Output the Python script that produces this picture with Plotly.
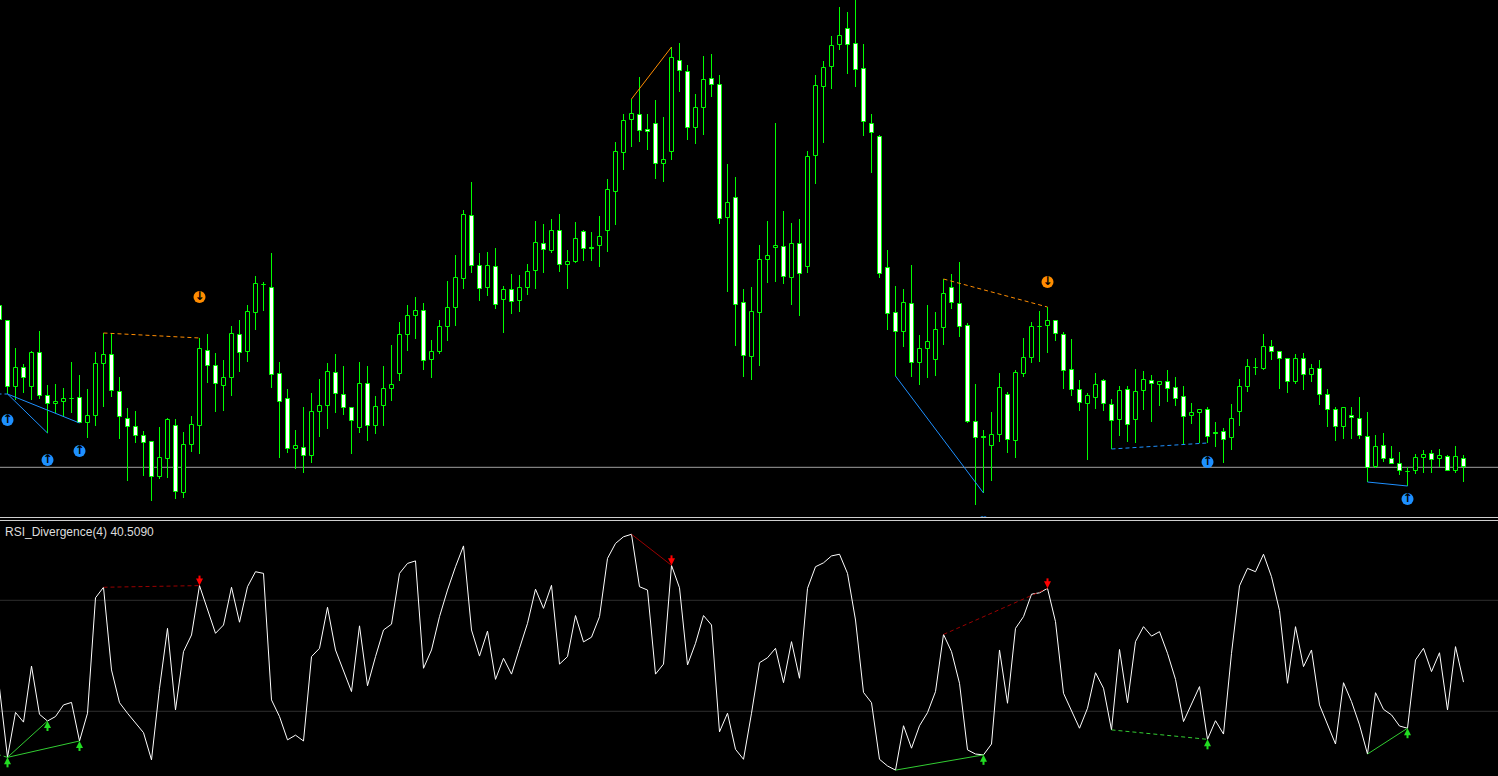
import plotly.graph_objects as go

# ---------------- data (bar index -1 .. 182) ----------------
idx = list(range(-1, 183))

open_ = [294, 279, 213, 232, 213, 247, 204, 196, 198, 201.5,
         202, 177, 184, 236, 245, 208, 181, 173, 164, 158,
         123, 141, 174, 107, 155, 174, 249, 234, 214, 222,
         265, 248, 287, 315, 312, 226, 201, 151, 152, 144,
         188, 194, 227, 205, 192, 172, 216, 174, 194, 211,
         226, 265, 284, 289, 240, 248, 273, 292, 321, 384,
         334, 312, 333, 300, 310, 299, 312, 329, 356, 349,
         369, 335, 338, 368, 352.5, 354, 369, 408, 447, 480,
         485, 470, 476, 436, 448, 539, 528, 472, 492, 521,
         515, 382, 402, 297, 243, 287, 340, 352, 353, 322,
         356, 333, 444, 513, 533, 555, 571, 556, 531, 476,
         463, 332, 287, 268, 296, 237, 251, 240, 272, 312,
         296, 274, 178, 163, 154, 165, 205, 159, 226, 242,
         273, 274, 279, 265, 230, 210, 196, 202, 219, 195,
         180, 210, 180, 209, 219, 215, 218, 212, 203, 184,
         187, 190, 167, 168, 162, 188, 213, 232, 231, 253,
         248, 241, 218, 241, 225, 231, 205, 190, 173, 184,
         181, 163, 133, 154, 141, 136, 128.5, 129, 142, 146,
         141, 143, 129, 141]

high = [296, 280, 252, 236, 249, 269, 215, 216, 212, 238,
        225, 211, 248, 267, 267, 223, 192, 189, 169, 159,
        173, 182, 181, 168, 184, 262, 266, 247, 240, 274,
        280, 295, 324, 318, 347, 238, 211, 170, 193, 207,
        221, 237, 246, 234, 192, 238, 234, 204, 234, 255,
        278, 295, 303, 297, 260, 280, 319, 345, 390, 418,
        347, 348, 352, 314, 326, 325, 336, 379, 376, 381,
        386, 350, 378, 370, 368, 384, 421, 458, 486, 501,
        523, 486, 500, 483, 553, 557, 535, 506, 544, 546,
        525, 436, 423, 311, 313, 355, 379, 477, 389, 377,
        381, 449, 525, 539, 564, 593, 588, 603, 556, 486,
        465, 350, 314, 311, 335, 265, 295, 288, 321, 326,
        338, 277, 216, 170, 188, 227, 208, 230, 262, 278,
        289, 293, 280, 268, 261, 220, 207, 227, 221, 201,
        214, 214, 231, 229, 225, 219, 230, 223, 214, 197,
        191, 193, 178, 172, 196, 221, 241, 242, 266, 260,
        248, 241, 246, 247, 236, 240, 211, 193, 193, 193,
        203, 188, 165, 167, 154, 148, 133, 146, 150, 150,
        151, 145, 154, 145]

low = [278, 206, 200, 207, 200, 201, 167, 187, 183, 187,
       177, 162, 174, 193, 203, 161, 119, 157, 124, 99,
       121, 122, 101, 102, 148, 146, 217, 188, 189, 204,
       228, 238, 270, 289, 212, 142, 147, 131, 127, 137,
       163, 171, 187, 185, 146, 167, 159, 166, 174, 199,
       219, 249, 261, 230, 222, 246, 259, 274, 311, 327,
       299, 304, 291, 267, 286, 288, 305, 311, 327, 347,
       328, 311, 337, 339, 339, 333, 348, 375, 430, 453,
       458, 450, 421, 418, 440, 508, 460, 456, 465, 503,
       376, 308, 254, 223, 220, 234, 317, 318, 316, 295,
       284, 327, 416, 457, 511, 550, 526, 513, 464, 427,
       322, 270, 224, 253, 223, 215, 222, 224, 255, 291,
       263, 177, 95, 107, 119, 158, 147, 142, 223, 237,
       238, 247, 259, 211, 204, 189, 140, 191, 189, 151,
       164, 158, 157, 190, 178, 194, 198, 194, 155, 176,
       157, 157, 153, 137, 150, 174, 208, 225, 230, 240,
       211, 207, 216, 210, 218, 195, 173, 159, 161, 161,
       161, 118, 132, 138, 136, 125, 114, 126, 127, 127,
       133, 129, 127, 118]

close = [280, 213, 232, 222, 247, 204, 196, 198, 201, 201,
         177, 184, 236, 245, 209, 183, 173, 164, 157, 123,
         142, 180, 108, 155, 175, 251, 234, 216, 222, 266,
         247, 288, 316, 315.5, 225, 198, 151, 154, 144, 188,
         194, 228, 206, 192, 179, 216, 174, 193, 211, 215,
         265, 284, 289, 239, 248, 273, 292, 322, 385, 334,
         311, 334, 295, 310, 298, 312, 328, 357, 350, 369,
         335, 338, 361, 351, 351.5, 363, 410, 448, 479, 486,
         469, 468, 436, 440, 542, 529, 472, 492, 520, 515,
         381, 397, 295, 244, 288, 340, 344, 354, 323, 356,
         326, 443, 514, 532, 554, 564, 555, 530, 478, 467,
         326, 286, 268, 297, 237, 251, 258, 270, 306, 297,
         273, 178, 162, 162.5, 165, 212, 160, 227, 242, 273,
         273.5, 279, 266, 229, 210, 197, 204, 215, 196, 179,
         209, 175, 208, 220, 216, 218, 211, 201, 183, 187,
         190, 163, 166.5, 160, 181, 213, 233, 232.5, 253, 248,
         241, 218, 241, 225, 231, 205, 190, 173, 192, 182,
         164, 132, 153, 141, 136, 129, 128, 142, 145, 140,
         144, 129, 143, 133]

rsi = [38.3, 13.4, 29.6, 26.1, 46.3, 28.9, 26.5, 28.1, 32.3, 33.2,
       19.3, 29.3, 70.9, 74.7, 44.9, 33.1, 29.3, 25.9, 22.3, 12.5,
       38.3, 59.9, 30.5, 51.5, 57.5, 75.3, 66.5, 58.1, 61.1, 74.7,
       62.1, 74.9, 80.3, 79.7, 34.1, 28.1, 19.7, 21.4, 19.3, 49.7,
       52.7, 67.5, 52.1, 44.9, 37.1, 60.8, 39.2, 49.7, 59.3, 61.4,
       79.7, 83.3, 84.2, 45.5, 52.1, 64.1, 73.7, 82.1, 89.6, 59.3,
       49.9, 58.9, 41.5, 49.1, 43.4, 52.7, 61.7, 74.0, 67.1, 75.4,
       47.0, 49.7, 64.5, 55.0, 56.7, 64.1, 85.1, 90.5, 92.9, 93.8,
       74.9, 73.7, 43.4, 47.0, 82.6, 74.5, 46.7, 54.5, 64.5, 61.1,
       22.6, 29.3, 16.3, 12.7, 29.3, 47.5, 49.3, 52.7, 40.3, 55.1,
       41.9, 74.3, 82.1, 83.5, 86.0, 86.6, 79.7, 62.9, 36.8, 33.1,
       12.7, 10.3, 8.8, 24.8, 16.7, 24.8, 29.5, 37.1, 57.7, 51.5,
       40.1, 16.1, 14.6, 14.3, 18.2, 52.1, 32.9, 59.9, 64.1, 72.2,
       72.7, 74.3, 62.3, 36.5, 29.9, 23.9, 31.1, 43.9, 38.3, 23.3,
       52.3, 33.1, 55.1, 60.5, 57.1, 58.7, 50.9, 41.5, 26.3, 32.3,
       38.9, 19.9, 26.6, 21.8, 50.9, 75.2, 81.5, 80.3, 86.6, 78.5,
       66.3, 40.1, 60.5, 46.1, 52.1, 32.3, 25.1, 18.2, 40.3, 33.5,
       25.1, 14.6, 36.7, 30.7, 28.7, 24.7, 23.9, 48.5, 52.7, 44.3,
       51.1, 30.5, 53.3, 40.509]

bid_price = 132.7
rsi_levels = [70, 30]
rsi_label = "RSI_Divergence(4) 40.5090"

# divergences (bar index pairs)
bull_pairs = [(0, 5, "solid"), (0, 9, "solid"), (111, 122, "solid"),
              (138, 150, "dash"), (170, 175, "solid")]
bear_pairs = [(12, 24, "dash"), (78, 83, "solid"), (117, 130, "dash")]
# lead-in from an earlier (off-screen) divergence
lead_x = -3
lead_price = 206
lead_rsi = 16.0

bull_icon_idx = [0, 5, 9, 122, 150, 175]
bull_icon_price = [180, 140, 149, 78, 138, 101]
bear_icon_idx = [24, 130]
bear_icon_price = [303, 318]
bull_arrow_idx = [0, 5, 9, 122, 150, 175]
bear_arrow_idx = [24, 83, 130]

# ---------------- styling ----------------
W, H = 1498, 776
LIME = "#00ff00"
BLUE = "#1e90ff"
ORANGE = "#ff8c00"
RSI_GREEN = "#32cd32"
RSI_RED = "#9b0000"
DASH = "4px,3px"

pos = {i: k for k, i in enumerate(idx)}

fig = go.Figure()

# candle bodies
base = [min(o, c) for o, c in zip(open_, close)]
hgt = [abs(c - o) for o, c in zip(open_, close)]
fill = ["#ffffff" if c < o else "#000000" for o, c in zip(open_, close)]
fig.add_trace(go.Bar(x=idx, y=hgt, base=base, width=0.5,
                     marker=dict(color=fill, line=dict(color=LIME, width=1)),
                     xaxis="x", yaxis="y", hoverinfo="skip"))

# wicks (upper and lower parts)
wx, wy = [], []
for i, o, h, l, c in zip(idx, open_, high, low, close):
    wx += [i, i, None, i, i, None]
    wy += [max(o, c), h, None, l, min(o, c), None]
fig.add_trace(go.Scatter(x=wx, y=wy, mode="lines", line=dict(color=LIME, width=1),
                         xaxis="x", yaxis="y", hoverinfo="skip"))

# divergence line helper
def seg(x0, y0, x1, y1, color, dash, xa, ya):
    fig.add_trace(go.Scatter(x=[x0, x1], y=[y0, y1], mode="lines",
                             line=dict(color=color, width=1,
                                       dash=DASH if dash == "dash" else "solid"),
                             xaxis=xa, yaxis=ya, hoverinfo="skip"))

seg(lead_x, lead_price, 0, low[pos[0]], BLUE, "dash", "x", "y")
for a, b, d in bull_pairs:
    seg(a, low[pos[a]], b, low[pos[b]], BLUE, d, "x", "y")
for a, b, d in bear_pairs:
    seg(a, high[pos[a]], b, high[pos[b]], ORANGE, d, "x", "y")

# price icons
fig.add_trace(go.Scatter(x=bull_icon_idx, y=bull_icon_price, mode="markers+text",
                         marker=dict(symbol="circle", size=12, color=BLUE),
                         text=["↑"] * len(bull_icon_idx), textposition="middle center",
                         textfont=dict(family="DejaVu Sans", size=12, color="black", weight="bold"),
                         xaxis="x", yaxis="y", hoverinfo="skip"))
fig.add_trace(go.Scatter(x=bear_icon_idx, y=bear_icon_price, mode="markers+text",
                         marker=dict(symbol="circle", size=12, color=ORANGE),
                         text=["↓"] * len(bear_icon_idx), textposition="middle center",
                         textfont=dict(family="DejaVu Sans", size=12, color="black", weight="bold"),
                         xaxis="x", yaxis="y", hoverinfo="skip"))

# RSI line
fig.add_trace(go.Scatter(x=idx, y=rsi, mode="lines", line=dict(color="#ffffff", width=1),
                         xaxis="x2", yaxis="y2", hoverinfo="skip"))

# RSI divergence lines
seg(lead_x, lead_rsi, 0, rsi[pos[0]], RSI_GREEN, "dash", "x2", "y2")
for a, b, d in bull_pairs:
    seg(a, rsi[pos[a]], b, rsi[pos[b]], RSI_GREEN, d, "x2", "y2")
for a, b, d in bear_pairs:
    seg(a, rsi[pos[a]], b, rsi[pos[b]], RSI_RED, d, "x2", "y2")

# RSI arrows (head + stem)
sx, sy = [], []
for i in bull_arrow_idx:
    v = rsi[pos[i]]
    sx += [i, i, None]; sy += [v - 1.2, v - 3.6, None]
fig.add_trace(go.Scatter(x=sx, y=sy, mode="lines", line=dict(color="#22dd22", width=2),
                         xaxis="x2", yaxis="y2", hoverinfo="skip"))
fig.add_trace(go.Scatter(x=bull_arrow_idx, y=[rsi[pos[i]] for i in bull_arrow_idx],
                         mode="markers", marker=dict(symbol="arrow-up", size=7, color="#22dd22"),
                         xaxis="x2", yaxis="y2", hoverinfo="skip"))
sx, sy = [], []
for i in bear_arrow_idx:
    v = rsi[pos[i]]
    sx += [i, i, None]; sy += [v + 1.2, v + 3.6, None]
fig.add_trace(go.Scatter(x=sx, y=sy, mode="lines", line=dict(color="#ff0000", width=2),
                         xaxis="x2", yaxis="y2", hoverinfo="skip"))
fig.add_trace(go.Scatter(x=bear_arrow_idx, y=[rsi[pos[i]] for i in bear_arrow_idx],
                         mode="markers", marker=dict(symbol="arrow-down", size=7, color="#ff0000"),
                         xaxis="x2", yaxis="y2", hoverinfo="skip"))

# ---------------- layout ----------------
x_range = [-0.9375, 186.3125]
main_dom = [1 - 517 / H, 1]
rsi_dom = [0, 1 - 521 / H]

shapes = [
    dict(type="line", xref="paper", x0=0, x1=1, yref="y", y0=bid_price, y1=bid_price,
         line=dict(color="#a0a0a0", width=1), layer="below"),
    dict(type="line", xref="paper", x0=0, x1=1, yref="paper",
         y0=1 - 517.5 / H, y1=1 - 517.5 / H, line=dict(color="#d0d0d0", width=1)),
    dict(type="line", xref="paper", x0=0, x1=1, yref="paper",
         y0=1 - 520.5 / H, y1=1 - 520.5 / H, line=dict(color="#d0d0d0", width=1)),
]
for lv in rsi_levels:
    shapes.append(dict(type="line", xref="paper", x0=0, x1=1, yref="y2", y0=lv, y1=lv,
                       line=dict(color="#2e2e2e", width=1), layer="below"))

fig.update_layout(
    width=W, height=H,
    margin=dict(l=0, r=0, t=0, b=0),
    paper_bgcolor="#000000", plot_bgcolor="#000000",
    showlegend=False, bargap=0,
    xaxis=dict(domain=[0, 1], range=x_range, visible=False, anchor="y"),
    xaxis2=dict(domain=[0, 1], range=x_range, visible=False, anchor="y2", matches="x"),
    yaxis=dict(domain=main_dom, range=[83, 600], visible=False, anchor="x"),
    yaxis2=dict(domain=rsi_dom, range=[6.68, 98.58], visible=False, anchor="x2"),
    shapes=shapes,
    annotations=[dict(text=rsi_label, xref="paper", yref="paper", x=3 / W, y=1 - 532 / H,
                      xanchor="left", yanchor="middle", showarrow=False,
                      font=dict(family="Liberation Sans", size=12, color="#dddddd"))],
)

fig.write_html("out.html", config={"displayModeBar": False},
               post_script="document.body.style.margin='0';document.body.style.backgroundColor='black';")
